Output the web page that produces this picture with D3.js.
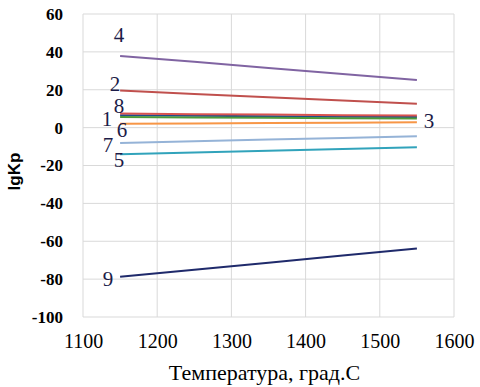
<!DOCTYPE html>
<meta charset="utf-8">
<style>
  body { margin: 0; background: #fff; }
  svg text { font-family: "Liberation Serif", serif; }
  .grid line { stroke: #d9d9d9; stroke-width: 1px; }
  .line { fill: none; stroke-width: 2px; }
</style>
<body>
<script src="https://d3js.org/d3.v7.min.js"></script>
<script>
// temperatures (deg C)
var temps = [1150, 1250, 1350, 1450, 1550];

// lgKp per reaction
var s1 = [6.5, 6.3, 6.0, 5.8, 5.6];
var s2 = [19.6, 17.8, 16.0, 14.3, 12.6];
var s3 = [5.6, 5.4, 5.2, 5.0, 4.8];
var s4 = [37.8, 34.8, 31.5, 28.3, 25.2];
var s5 = [-14.0, -13.1, -12.2, -11.3, -10.4];
var s6 = [2.0, 2.2, 2.4, 2.6, 2.8];
var s7 = [-8.1, -7.2, -6.3, -5.5, -4.6];
var s8 = [7.4, 7.1, 6.9, 6.6, 6.4];
var s9 = [-78.8, -75.0, -71.3, -67.5, -63.8];

var xTicks = [1100, 1200, 1300, 1400, 1500, 1600];
var yTicks = [60, 40, 20, 0, -20, -40, -60, -80, -100];

var series = [
  { name: "1", values: s1, color: "#1f4e8c" },
  { name: "2", values: s2, color: "#c0504d" },
  { name: "3", values: s3, color: "#4e9a3a" },
  { name: "4", values: s4, color: "#8064a2" },
  { name: "5", values: s5, color: "#31a3bb" },
  { name: "6", values: s6, color: "#f79646" },
  { name: "7", values: s7, color: "#95b3d7" },
  { name: "8", values: s8, color: "#d9534f" },
  { name: "9", values: s9, color: "#1f2a6b" }
];

// label offsets next to line ends
var labels = [
  { name: "1", at: 0, dx: -13, dy: 11 },
  { name: "2", at: 0, dx: -5, dy: 0 },
  { name: "3", at: 4, dx: 12, dy: 9 },
  { name: "4", at: 0, dx: -1, dy: -14 },
  { name: "5", at: 0, dx: -1, dy: 13 },
  { name: "6", at: 0, dx: 2, dy: 13 },
  { name: "7", at: 0, dx: -12, dy: 9 },
  { name: "8", at: 0, dx: -1, dy: -1 },
  { name: "9", at: 0, dx: -12, dy: 9 }
];

var margin = { top: 14, right: 26, bottom: 70, left: 83 },
  width = 480 - margin.left - margin.right,
  height = 387 - margin.top - margin.bottom;

var svg = d3.select("body").append("svg")
  .attr("width", 480)
  .attr("height", 387)
  .append("g")
  .attr("transform", "translate(" + margin.left + "," + margin.top + ")");

var x = d3.scaleLinear().domain([1100, 1600]).range([0, width]);
var y = d3.scaleLinear().domain([-100, 60]).range([height, 0]);

// gridlines
var grid = svg.append("g").attr("class", "grid");
grid.selectAll(".gx").data(xTicks).join("line")
  .attr("x1", d => x(d)).attr("x2", d => x(d))
  .attr("y1", 0).attr("y2", height);
grid.selectAll(".gy").data(yTicks).join("line")
  .attr("class", "gy")
  .attr("x1", 0).attr("x2", width)
  .attr("y1", d => y(d)).attr("y2", d => y(d));

// axes
var xAxis = svg.append("g")
  .attr("transform", "translate(0," + height + ")")
  .call(d3.axisBottom(x).tickValues(xTicks).tickFormat(d => String(d)).tickSize(0).tickPadding(17));
xAxis.select(".domain").remove();
xAxis.selectAll("text").attr("fill", "#000").style("font-size", "20px");

var yAxis = svg.append("g")
  .call(d3.axisLeft(y).tickValues(yTicks).tickFormat(d => String(d)).tickSize(0).tickPadding(20));
yAxis.select(".domain").remove();
yAxis.selectAll("text").attr("fill", "#000").style("font-size", "17px").style("font-weight", "bold");

// lines
var valueline = d3.line()
  .x((d, i) => x(temps[i]))
  .y(d => y(d));

svg.selectAll(".line").data(series).join("path")
  .attr("class", "line")
  .attr("stroke", d => d.color)
  .attr("d", d => valueline(d.values));

// series numbers
svg.selectAll(".lbl").data(labels).join("text")
  .attr("class", "lbl")
  .attr("text-anchor", "middle")
  .style("font-size", "21px")
  .attr("fill", "#1c1c48")
  .attr("x", d => x(temps[d.at]) + d.dx)
  .attr("y", function (d) {
    var s = series.find(e => e.name === d.name);
    return y(s.values[d.at]) + d.dy;
  })
  .text(d => d.name);

// axis titles
svg.append("text")
  .attr("x", width / 2 - 4)
  .attr("y", height + 63)
  .attr("text-anchor", "middle")
  .style("font-size", "22px")
  .text("Температура, град.С");

svg.append("text")
  .attr("transform", "translate(-63," + (y(-20) + 6) + ") rotate(-90)")
  .attr("text-anchor", "middle")
  .style("font-family", "'Liberation Sans', Arial, sans-serif")
  .style("font-size", "17px")
  .style("font-weight", "bold")
  .text("lgKp");
</script>
</body>
